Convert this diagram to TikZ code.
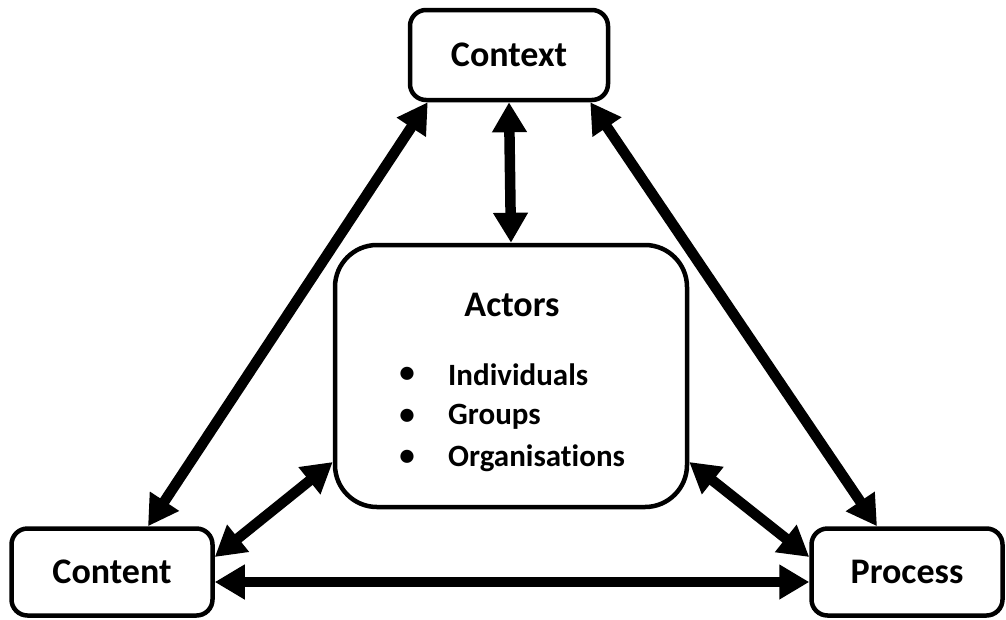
\documentclass[tikz,border=0pt]{standalone}
\usepackage{fontspec}
\setmainfont{Carlito}[Ligatures=NoCommon]
\usepackage{tikz}
\usetikzlibrary{positioning}
\usetikzlibrary{arrows.meta}

\begin{document}
\begin{tikzpicture}[x=1pt,y=-1pt,
  box/.style={draw, line width=4.5pt, rounded corners=16pt, fill=white,
    font=\fontsize{36}{43}\selectfont\bfseries},
  link/.style={line width=10.5pt, {Triangle[length=30pt,width=33pt]}-{Triangle[length=30pt,width=33pt]}},
  item/.style={font=\fontsize{31}{37}\selectfont\bfseries, inner sep=0pt}]
\useasboundingbox (0,0) rectangle (1006,619);
\node[box, minimum width=198pt, minimum height=90pt] (context) at (509,55) {Context};
\node[box, minimum width=201pt, minimum height=87pt] (content) at (112,572) {Content};
\node[box, minimum width=191pt, minimum height=87pt] (process) at (907,572) {Process};
\node[box, rounded corners=42pt, minimum width=352pt, minimum height=262pt] (actors) at (511,376) {};
\node[item, font=\fontsize{36}{43}\selectfont\bfseries] (actorstitle) at (512,305) {Actors};
\foreach \name/\y [count=\i] in {Individuals/375, Groups/417, Organisations/458} {
  \node[item] (dot\i) at (407,\y) {•};
  \node[item, anchor=west] (entry\i) at (448,\y) {\name};
}
% links between the four boxes
\draw[link] ([xshift=20pt]context.south west) -- ([xshift=36pt]content.north);
\draw[link] ([xshift=-20pt]context.south east) -- ([xshift=-30pt]process.north);
\draw[link] (context.south) -- (actors.north);
\draw[link] ([yshift=-86pt]actors.west) -- ([yshift=15pt]content.east);
\draw[link] ([yshift=-86pt]actors.east) -- ([yshift=15pt]process.west);
\draw[link] ([yshift=-10pt]content.east) -- ([yshift=-10pt]process.west);
\end{tikzpicture}
\end{document}
